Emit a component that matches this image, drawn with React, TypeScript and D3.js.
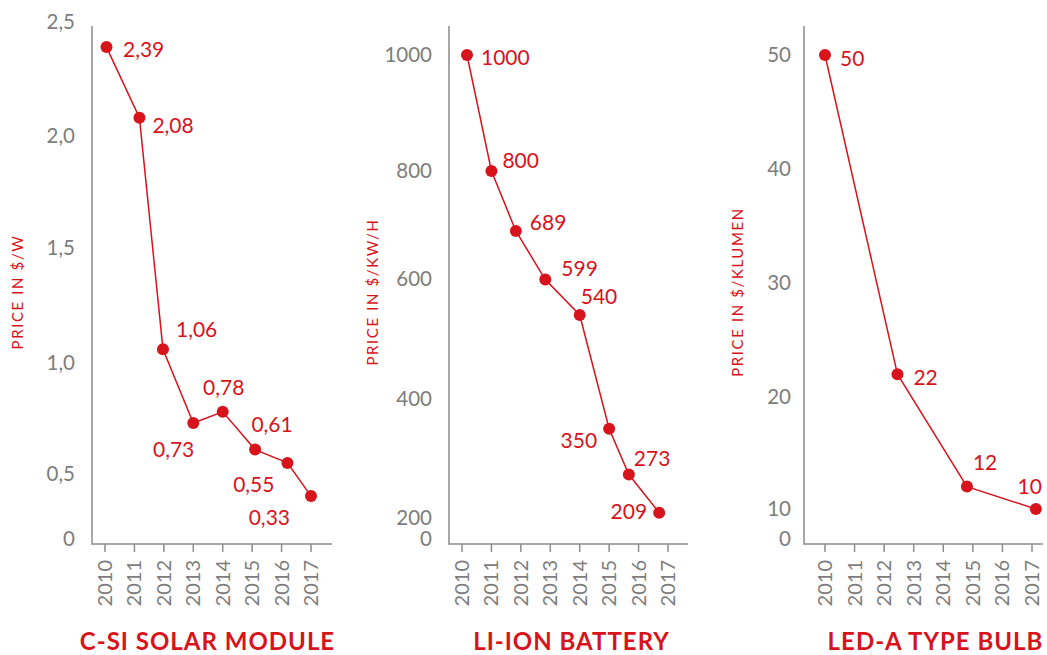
import React from "react";
import * as d3 from "d3";

// ---------- Data ----------
const YEARS = [2010, 2011, 2012, 2013, 2014, 2015, 2016, 2017];

const SOLAR_YEARS = [2010.05, 2011.17, 2011.97, 2013, 2014, 2015.1, 2016.2, 2017];
const SOLAR_PRICES = [2.39, 2.08, 1.06, 0.73, 0.78, 0.61, 0.55, 0.33];
const SOLAR_TICKS = [0, 0.5, 1, 1.5, 2, 2.5];

const BATTERY_YEARS = [2010.17, 2011, 2011.83, 2012.83, 2014, 2015, 2015.67, 2016.7];
const BATTERY_PRICES = [1000, 800, 689, 599, 540, 350, 273, 209];
const BATTERY_TICKS = [0, 200, 400, 600, 800, 1000];

const LED_YEARS = [2010, 2012.45, 2014.8, 2017.13];
const LED_PRICES = [50, 22, 12, 10];
const LED_TICKS = [0, 10, 20, 30, 40, 50];

const TITLES = ["C-SI SOLAR MODULE", "LI-ION BATTERY", "LED-A TYPE BULB"];
const Y_LABELS = ["PRICE IN $/W", "PRICE IN $/KW/H", "PRICE IN $/KLUMEN"];

// ---------- Styles ----------
const RED = "#d7131b";
const GREY = "#7d7d7d";
const AXIS = "#8c8c8c";
const FONT = "Lato, 'Open Sans', sans-serif";

const locale = d3.formatLocale({ decimal: ",", thousands: ".", grouping: [3], currency: ["$", ""] });
const fmt2 = locale.format(".2f");
const fmt1 = locale.format(".1f");
const fmt0 = locale.format("d");

type LabelPos = [string, number, number]; // anchor, dx, dy

// ---------- Layout ----------
const PANELS = [
  {
    title: TITLES[0], yLabel: Y_LABELS[0],
    xs: SOLAR_YEARS, ys: SOLAR_PRICES, ticks: SOLAR_TICKS,
    valueFmt: fmt2, tickFmt: (v: number) => (v === 0 ? "0" : fmt1(v)),
    axisX: 92, axisRight: 332, x0: 105, x1: 311,
    tickY: [539, 474, 363, 248, 136, 22],
    tickGap: 17, yLabelX: 18, titleX: 207.5,
    labels: [
      ["start", 16.5, 3], ["start", 13, 8], ["start", 13, -20], ["end", 1, 27],
      ["middle", 1, -24], ["middle", 17, -25], ["end", -13, 22], ["end", -21, 22],
    ] as LabelPos[],
  },
  {
    title: TITLES[1], yLabel: Y_LABELS[1],
    xs: BATTERY_YEARS, ys: BATTERY_PRICES, ticks: BATTERY_TICKS,
    valueFmt: fmt0, tickFmt: fmt0,
    axisX: 449, axisRight: 688, x0: 462, x1: 668,
    tickY: [539, 518, 399, 279, 171, 55],
    tickGap: 17, yLabelX: 373, titleX: 571.5,
    labels: [
      ["start", 14, 3], ["start", 11, -10], ["start", 14, -8], ["start", 16, -11],
      ["start", 1, -18], ["end", -12, 12], ["start", 5, -16], ["end", -12, -1],
    ] as LabelPos[],
  },
  {
    title: TITLES[2], yLabel: Y_LABELS[2],
    xs: LED_YEARS, ys: LED_PRICES, ticks: LED_TICKS,
    valueFmt: fmt0, tickFmt: fmt0,
    axisX: 804, axisRight: 1043, x0: 825, x1: 1032,
    tickY: [539, 509, 397, 283, 169, 55],
    tickGap: 13, yLabelX: 738, titleX: 935.5,
    labels: [
      ["start", 15, 4], ["start", 16, 3], ["start", 6, -24], ["end", 6, -22],
    ] as LabelPos[],
  },
];

const AXIS_TOP = 26;
const AXIS_BOTTOM = 544;

function Panel({ p }: { p: (typeof PANELS)[number] }) {
  const x = d3.scaleLinear().domain([YEARS[0], YEARS[YEARS.length - 1]]).range([p.x0, p.x1]);
  const y = d3.scaleLinear().domain(p.ticks).range(p.tickY);
  const pts = p.xs.map((xv, i) => [x(xv), y(p.ys[i])] as [number, number]);
  const line = d3.line()(pts) || "";
  return (
    <g>
      {/* axes */}
      <path
        d={`M${p.axisX},${AXIS_TOP}V${AXIS_BOTTOM}H${p.axisRight}`}
        fill="none" stroke={AXIS} strokeWidth={1.5}
      />
      {YEARS.map((yr) => (
        <g key={yr}>
          <line x1={x(yr)} x2={x(yr)} y1={AXIS_BOTTOM} y2={AXIS_BOTTOM + 8} stroke={AXIS} strokeWidth={1.5} />
          <text
            transform={`translate(${x(yr)},${AXIS_BOTTOM + 16}) rotate(-90)`}
            textAnchor="end" dy="0.35em" fill={GREY} fontSize={20} fontFamily={FONT}
          >
            {yr}
          </text>
        </g>
      ))}
      {p.ticks.map((t) => (
        <text
          key={t} x={p.axisX - p.tickGap} y={y(t)} dy="0.35em" textAnchor="end"
          fill={GREY} fontSize={20.5} fontFamily={FONT}
        >
          {p.tickFmt(t)}
        </text>
      ))}
      <text
        transform={`translate(${p.yLabelX},292) rotate(-90)`}
        textAnchor="middle" dy="0.35em" fill={RED} fontSize={15} fontFamily={FONT}
        letterSpacing={1.6}
      >
        {p.yLabel}
      </text>
      {/* series */}
      <path d={line} fill="none" stroke={RED} strokeWidth={1.5} />
      {pts.map(([px, py], i) => (
        <circle key={i} cx={px} cy={py} r={6} fill={RED} />
      ))}
      {pts.map(([px, py], i) => {
        const [anchor, dx, dy] = p.labels[i];
        return (
          <text
            key={"l" + i} x={px + dx} y={py + dy} dy="0.35em" textAnchor={anchor}
            fill={RED} fontSize={21} fontFamily={FONT}
          >
            {p.valueFmt(p.ys[i])}
          </text>
        );
      })}
      <text
        x={p.titleX} y={642} dy="0.35em" textAnchor="middle" fill={RED}
        fontSize={24} fontWeight={700} fontFamily={FONT} letterSpacing={1}
      >
        {p.title}
      </text>
    </g>
  );
}

export default function App() {
  return (
    <svg
      width={1047} height={655}
      style={{ position: "absolute", left: 0, top: 0, background: "#fff" }}
    >
      <rect width={1047} height={655} fill="#fff" />
      {PANELS.map((p, i) => (
        <Panel key={i} p={p} />
      ))}
    </svg>
  );
}
